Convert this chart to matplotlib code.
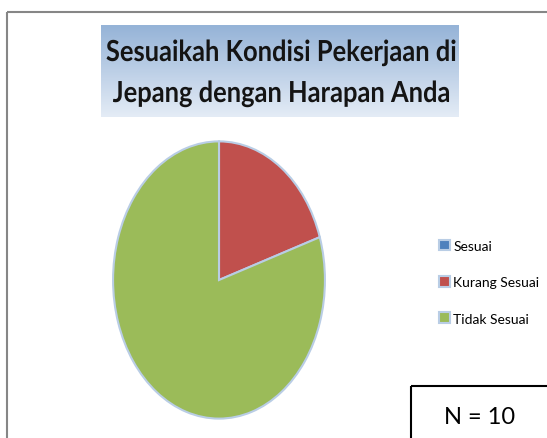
import matplotlib
matplotlib.use("Agg")
import matplotlib.pyplot as plt
import numpy as np
from matplotlib.patches import Rectangle, PathPatch
from matplotlib.textpath import TextPath
from matplotlib.font_manager import FontProperties
from matplotlib.transforms import Affine2D

labels = ["Sesuai", "Kurang Sesuai", "Tidak Sesuai"]
counts = [0, 2, 8]
colors = ["#4f81bd", "#c0504d", "#9bbb59"]
title_lines = ["Sesuaikah Kondisi Pekerjaan di", "Jepang dengan Harapan Anda"]
n_label = "N = 10"

W, H = 547, 439
fig = plt.figure(figsize=(W / 100, H / 100), dpi=100)
fig.patch.set_facecolor("white")

# background axes in pixel coords
bg = fig.add_axes([0, 0, 1, 1])
bg.axis("off")

# chart border (runs off right and bottom)
bg.add_patch(Rectangle((6.5, 12.5), 560, 460, fill=False, ec="#868686", lw=1.5, zorder=1))

# title with gradient highlight
grad = np.linspace(0, 1, 100).reshape(-1, 1)
top = np.array([0x95, 0xb3, 0xd7]) / 255
bot = np.array([0xe4, 0xec, 0xf6]) / 255
img = (top + (bot - top) * grad[..., None]).reshape(100, 1, 3)
bg.imshow(img, extent=(101, 459, 118, 26), aspect="auto", zorder=2)
bg.set_xlim(0, W)
bg.set_ylim(H, 0)

# title drawn as condensed text paths (Calibri-like narrow look)
fp = FontProperties(family="Lato", weight="bold")
size = 29
paths = [TextPath((0, 0), s, size=size, prop=fp) for s in title_lines]
w0 = paths[0].get_extents().width
sx = 349 / w0
for p, base in zip(paths, [62, 103]):
    ext = p.get_extents()
    tr = Affine2D().translate(-(ext.x0 + ext.width / 2), 0).scale(sx, -1).translate(281, base)
    bg.add_patch(PathPatch(tr.transform_path(p), fc="#141414", ec="none", zorder=3))

# N box
bg.add_patch(Rectangle((411, 387), 200, 100, fill=False, ec="black", lw=1.5, zorder=3))
bg.text(480, 418, n_label, fontsize=17, family="Lato", ha="center", va="center", zorder=4)

# pie in its own stretched axes
cx, cy, rx, ry = 219, 281, 107, 140
pax = fig.add_axes([(cx - rx) / W, 1 - (cy + ry) / H, 2 * rx / W, 2 * ry / H])
wedges, _ = pax.pie(counts, colors=colors, startangle=90, counterclock=False,
                    wedgeprops=dict(edgecolor="#b9cde5", linewidth=1.5))
pax.set_aspect("auto")
pax.set_xlim(-1.01, 1.01)
pax.set_ylim(-1.01, 1.01)

leg = bg.legend(wedges, labels, loc="upper left", bbox_to_anchor=(426 / W, 1 - 228 / H),
                bbox_transform=fig.transFigure, frameon=False, handlelength=0.8,
                handleheight=0.8, handletextpad=0.25, labelspacing=1.75,
                prop=dict(family="Lato", size=10))

plt.savefig("out.png", dpi=100)
